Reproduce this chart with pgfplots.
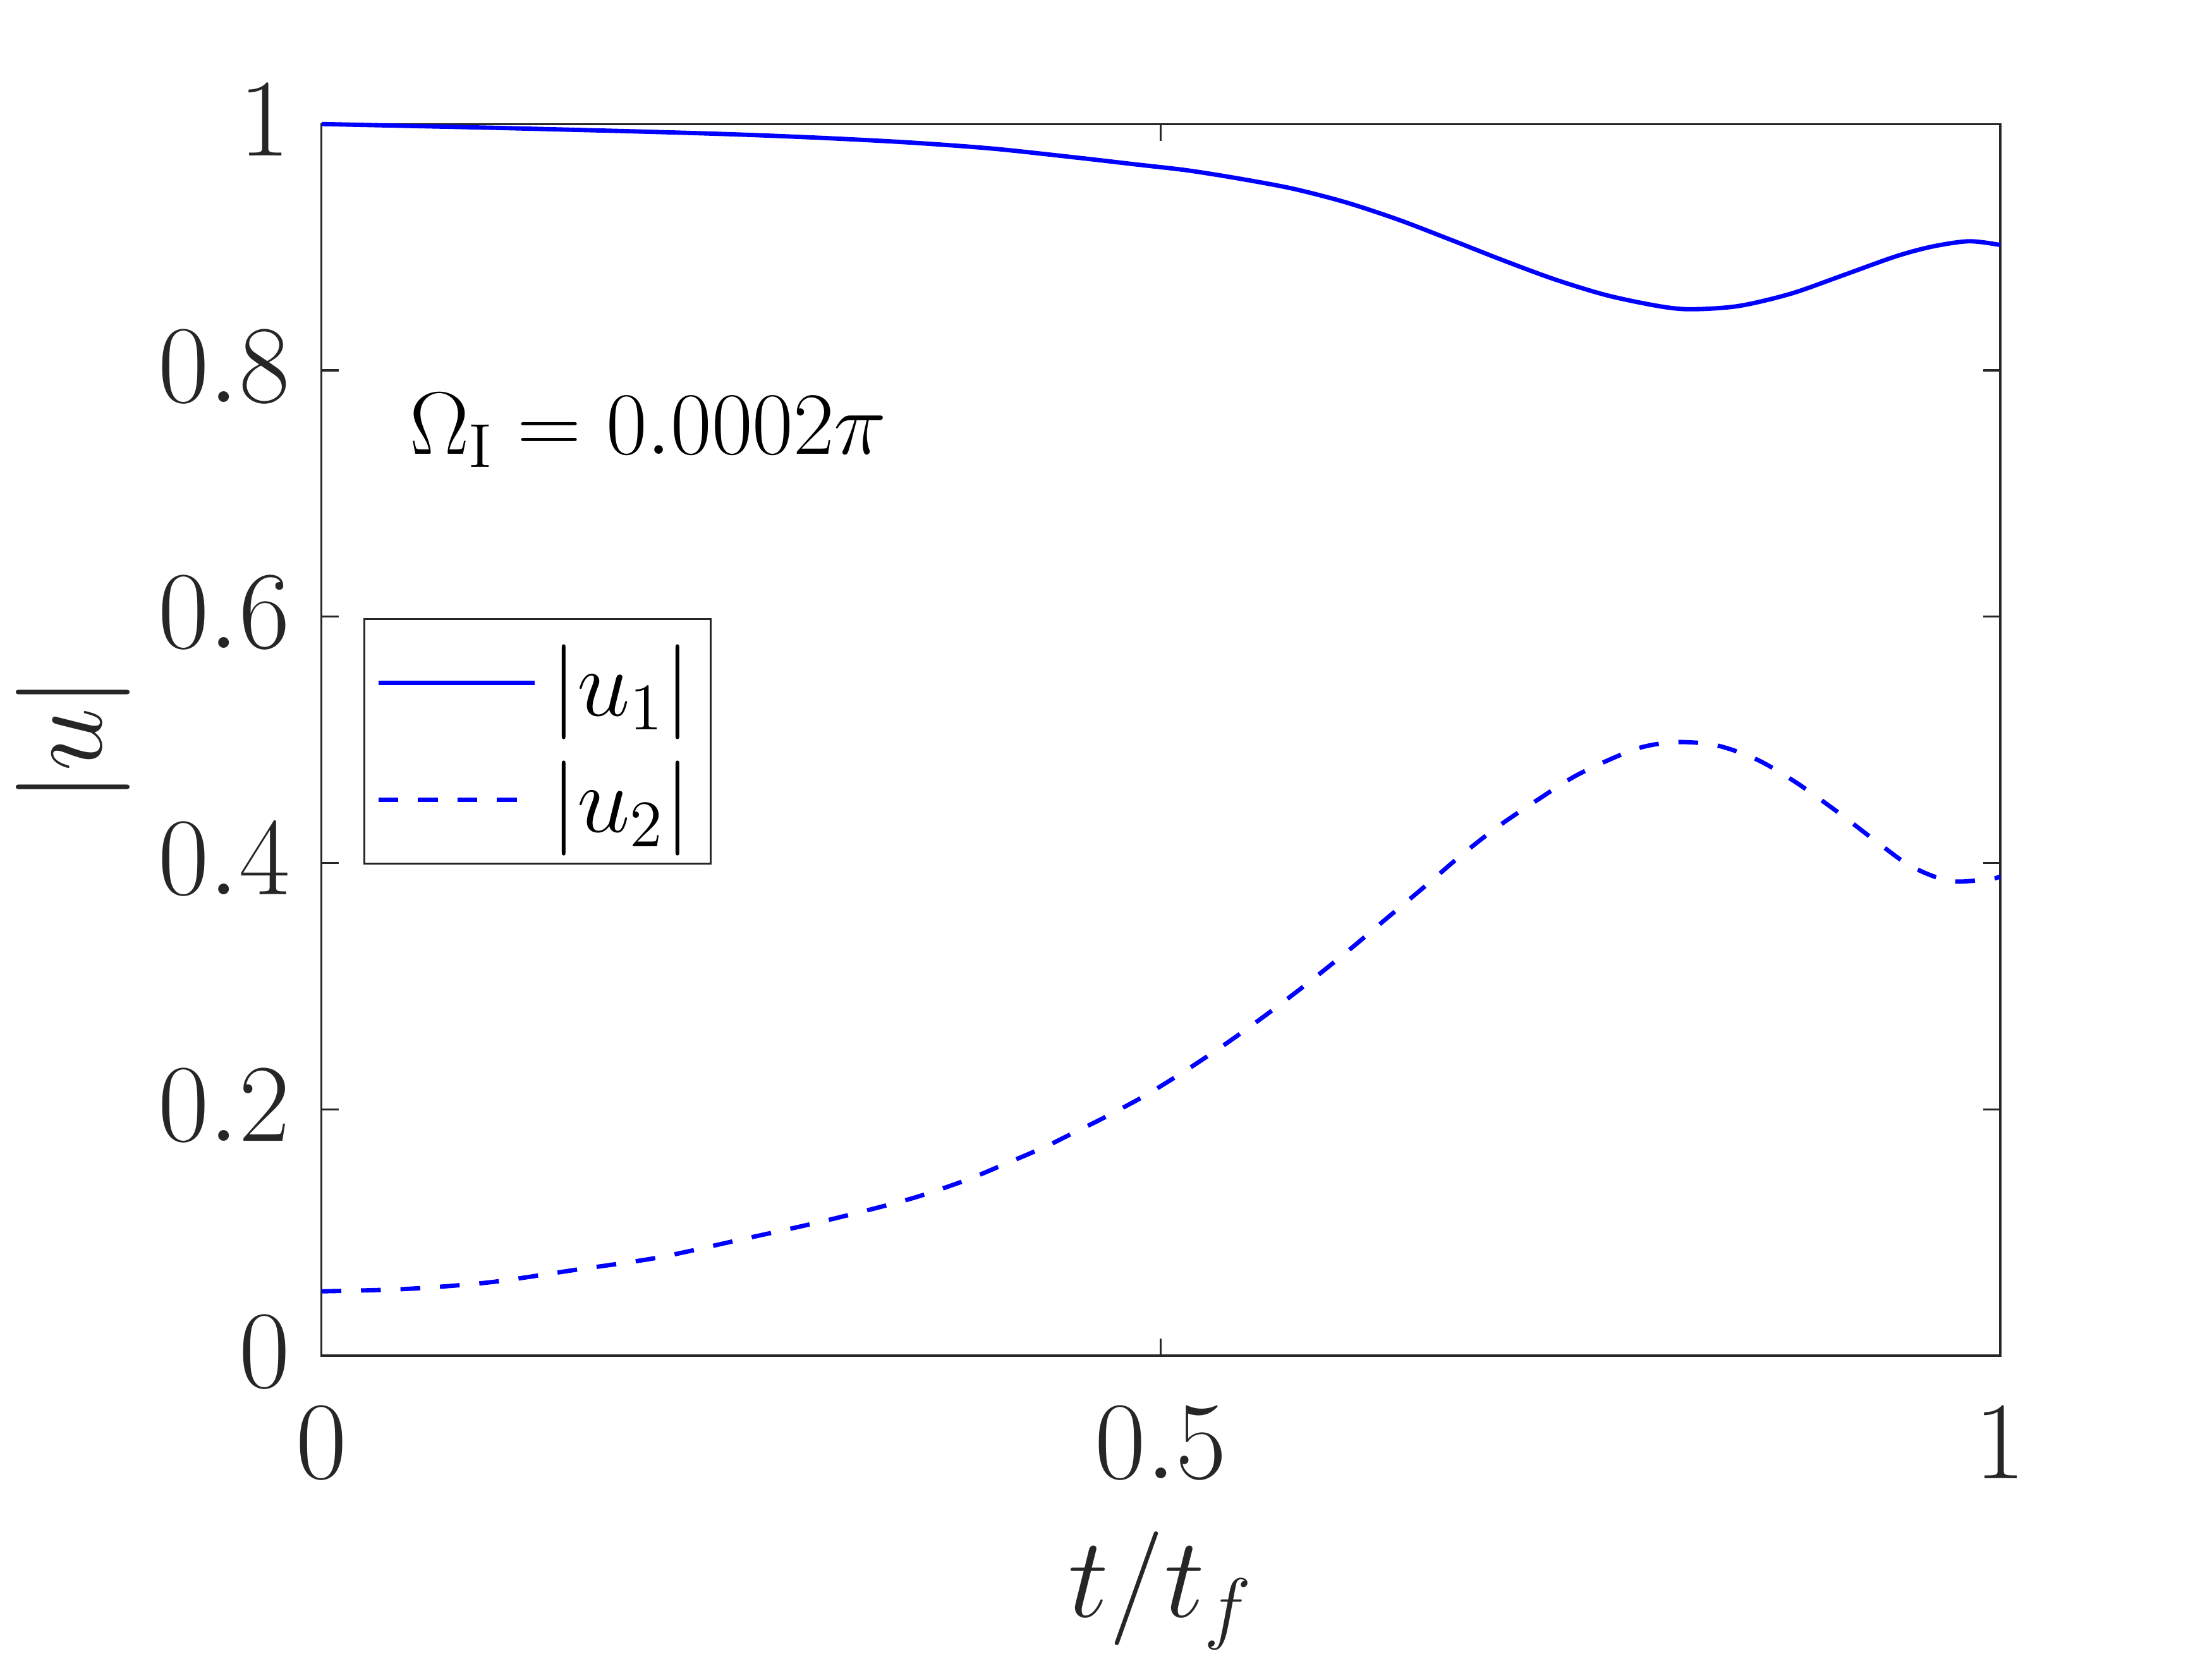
\documentclass[border=0pt]{standalone}
\usepackage{fix-cm}
\usepackage{pgfplots}
\pgfplotsset{compat=1.18}
\definecolor{axgray}{gray}{0.15}
\pgfplotstableread{
t u
0.000 1.0000
0.050 0.9985
0.100 0.9970
0.150 0.9953
0.200 0.9935
0.250 0.9914
0.300 0.9886
0.350 0.9850
0.400 0.9800
0.450 0.9727
0.4863 0.9670
0.5162 0.9623
0.5474 0.9555
0.5786 0.9475
0.6099 0.9365
0.6411 0.9225
0.6723 0.9062
0.7035 0.8895
0.7347 0.8738
0.7660 0.8608
0.7972 0.8520
0.8159 0.8496
0.8440 0.8522
0.8752 0.8622
0.9064 0.8772
0.9377 0.8925
0.9595 0.9005
0.9814 0.9048
1.0000 0.9018
}\uone
\pgfplotstableread{
t u
0.000 0.0522
0.050 0.0541
0.100 0.0595
0.150 0.0694
0.200 0.0795
0.250 0.0943
0.300 0.1095
0.350 0.1270
0.383 0.1420
0.407 0.1555
0.431 0.1695
0.445 0.1789
0.467 0.1938
0.491 0.2115
0.515 0.2317
0.539 0.2535
0.563 0.2770
0.587 0.3019
0.611 0.3281
0.635 0.3556
0.659 0.3830
0.677 0.4041
0.700 0.4288
0.725 0.4518
0.749 0.4722
0.783 0.4926
0.807 0.4981
0.831 0.4955
0.855 0.4840
0.878 0.4657
0.903 0.4415
0.928 0.4155
0.947 0.3972
0.970 0.3853
0.994 0.3870
1.000 0.3891
}\utwo
\begin{document}
\begin{tikzpicture}
\useasboundingbox (0,0) rectangle (560pt,420pt);
\begin{axis}[
  at={(81.4pt,76.8pt)}, anchor=south west,
  width=425pt, height=311.8pt, scale only axis,
  xmin=0, xmax=1, ymin=0, ymax=1,
  clip=false,
  xtick={0,0.5,1}, ytick={0,0.2,0.4,0.6,0.8,1},
  tick align=inside, major tick length=4.3pt,
  xtick pos=both, ytick pos=both,
  axis line style={draw=axgray, line width=0.5pt},
  major tick style={draw=axgray, line width=0.5pt},
  ticklabel style={font=\fontsize{28}{33}\selectfont, text=axgray},
  xticklabel style={yshift=-9.5pt},
  yticklabel style={xshift=-4.5pt, yshift=1pt},
  xlabel={$t/t_f$}, ylabel={$|u|$},
  label style={font=\fontsize{28.8}{34}\selectfont, text=axgray, inner sep=0pt},
  xlabel style={at={(axis description cs:0.5,-0.2123)}, anchor=base},
  ylabel style={at={(axis description cs:-0.1480,0.5)}, anchor=center},
  legend style={at={(0.025,0.599)}, anchor=north west, draw=axgray,
    line width=0.5pt, font=\fontsize{24}{29}\selectfont,
    inner xsep=3pt, inner ysep=4.5pt, row sep=6pt},
  legend cell align=left,
  legend image code/.code={\draw[#1] (0pt,0pt) -- (39.6pt,0pt);},
]
\addplot[color=blue, line width=1.1pt, smooth] table[x=t,y=u] {\uone};
\addlegendentry{\hspace{1.5pt}$|u_1|$}
\addplot[color=blue, line width=1.1pt, smooth, dash pattern=on 5pt off 5pt] table[x=t,y=u] {\utwo};
\addlegendentry{\hspace{1.5pt}$|u_2|$}
\node[anchor=base west, inner sep=0pt, font=\fontsize{22.5}{27}\selectfont] at (axis cs:0.052,0.7322) {$\Omega_{\mathrm{I}} = 0.0002\pi$};
\end{axis}
\end{tikzpicture}
\end{document}
